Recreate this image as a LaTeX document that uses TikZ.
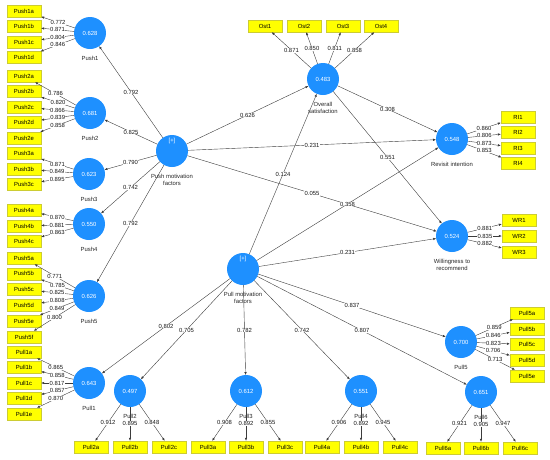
\documentclass[tikz,border=0pt]{standalone}
\usepackage{fontspec}
\setmainfont{Liberation Sans}
\usepackage{xcolor}
\definecolor{plsblue}{RGB}{30,144,255}
\definecolor{plsyellow}{RGB}{255,255,0}
\definecolor{plsline}{RGB}{60,60,60}
\newcommand{\plsfont}{\fontsize{5.9}{7}\selectfont}
\usepackage{tikz}
\usetikzlibrary{arrows.meta, positioning}

\begin{document}
\begin{tikzpicture}[
        x=1pt, y=-1pt,
        lv/.style={circle, fill=plsblue, minimum size=32pt, inner sep=0pt, outer sep=0pt, text=white, font=\plsfont},
        lvname/.style={font=\plsfont, text=black!85, align=center, inner sep=0pt, yshift=-7pt},
        plusmark/.style={font=\plsfont, text=white, yshift=10pt},
        ind/.style={rectangle, fill=plsyellow, draw=plsyellow!60!gray, line width=0.3pt, minimum width=34pt, minimum height=12pt, inner sep=0pt, font=\plsfont},
        arrow/.style={-{Latex[length=3pt,width=2.4pt]}, line width=0.4pt, draw=plsline},
        val/.style={fill=white, inner sep=0.4pt, font=\plsfont, text=black!90}
    ]
        \useasboundingbox (0,0) rectangle (550,459);

        % constructs
        \node[lv, label={[plusmark]center:{[+]}}, label={[lvname]below:{Push motivation\\factors}}] (push) at (172,151) {};
        \node[lv, label={[plusmark]center:{[+]}}, label={[lvname]below:{Pull motivation\\factors}}] (pull) at (243,269) {};
        \node[lv, label={[lvname]below:Push1}] (push1) at (90,33) {0.628};
        \node[lv, label={[lvname]below:Push2}] (push2) at (90,113) {0.681};
        \node[lv, label={[lvname]below:Push3}] (push3) at (89,174) {0.623};
        \node[lv, label={[lvname]below:Push4}] (push4) at (89,224) {0.550};
        \node[lv, label={[lvname]below:Push5}] (push5) at (89,296) {0.626};
        \node[lv, label={[lvname]below:Pull1}] (pull1) at (89,383) {0.643};
        \node[lv, label={[lvname]below:Pull2}] (pull2) at (130,391) {0.497};
        \node[lv, label={[lvname]below:Pull3}] (pull3) at (246,391) {0.612};
        \node[lv, label={[lvname]below:Pull4}] (pull4) at (361,391) {0.551};
        \node[lv, label={[lvname]below:Pull5}] (pull5) at (461,342) {0.700};
        \node[lv, label={[lvname]below:Pull6}] (pull6) at (481,392) {0.651};
        \node[lv, label={[lvname]below:{Overall\\satisfaction}}] (ost) at (323,79) {0.483};
        \node[lv, label={[lvname]below:Revisit intention}] (ri) at (452,139) {0.548};
        \node[lv, label={[lvname]below:{Willingness to\\recommend}}] (wr) at (452,236) {0.524};

        % indicators
        \node[ind] (push1a) at (24,11) {Push1a};
        \node[ind] (push1b) at (24,26.5) {Push1b};
        \node[ind] (push1c) at (24,42) {Push1c};
        \node[ind] (push1d) at (24,57.5) {Push1d};
        \node[ind] (push2a) at (24,76) {Push2a};
        \node[ind] (push2b) at (24,91.5) {Push2b};
        \node[ind] (push2c) at (24,107) {Push2c};
        \node[ind] (push2d) at (24,122.5) {Push2d};
        \node[ind] (push2e) at (24,138) {Push2e};
        \node[ind] (push3a) at (24,153.5) {Push3a};
        \node[ind] (push3b) at (24,169) {Push3b};
        \node[ind] (push3c) at (24,184.5) {Push3c};
        \node[ind] (push4a) at (24,210) {Push4a};
        \node[ind] (push4b) at (24,226) {Push4b};
        \node[ind] (push4c) at (24,241.5) {Push4c};
        \node[ind] (push5a) at (24,258) {Push5a};
        \node[ind] (push5b) at (24,273.8) {Push5b};
        \node[ind] (push5c) at (24,289.6) {Push5c};
        \node[ind] (push5d) at (24,305.4) {Push5d};
        \node[ind] (push5e) at (24,321.2) {Push5e};
        \node[ind] (push5f) at (24,337) {Push5f};
        \node[ind] (pull1a) at (24,352) {Pull1a};
        \node[ind] (pull1b) at (24,367.5) {Pull1b};
        \node[ind] (pull1c) at (24,383) {Pull1c};
        \node[ind] (pull1d) at (24,398.5) {Pull1d};
        \node[ind] (pull1e) at (24,414) {Pull1e};
        \node[ind] (pull2a) at (91,447) {Pull2a};
        \node[ind] (pull2b) at (130,447) {Pull2b};
        \node[ind] (pull2c) at (169,447) {Pull2c};
        \node[ind] (pull3a) at (208,447) {Pull3a};
        \node[ind] (pull3b) at (246,447) {Pull3b};
        \node[ind] (pull3c) at (285,447) {Pull3c};
        \node[ind] (pull4a) at (322,447) {Pull4a};
        \node[ind] (pull4b) at (361,447) {Pull4b};
        \node[ind] (pull4c) at (400,447) {Pull4c};
        \node[ind] (pull5a) at (527,313) {Pull5a};
        \node[ind] (pull5b) at (527,329) {Pull5b};
        \node[ind] (pull5c) at (527,344.5) {Pull5c};
        \node[ind] (pull5d) at (527,360) {Pull5d};
        \node[ind] (pull5e) at (527,376) {Pull5e};
        \node[ind] (pull6a) at (443,448) {Pull6a};
        \node[ind] (pull6b) at (481,448) {Pull6b};
        \node[ind] (pull6c) at (520,448) {Pull6c};
        \node[ind] (ost1) at (265,26) {Ost1};
        \node[ind] (ost2) at (304,26) {Ost2};
        \node[ind] (ost3) at (343,26) {Ost3};
        \node[ind] (ost4) at (381,26) {Ost4};
        \node[ind] (ri1) at (518,117) {RI1};
        \node[ind] (ri2) at (518,132.5) {RI2};
        \node[ind] (ri3) at (518,148) {RI3};
        \node[ind] (ri4) at (518,163.5) {RI4};
        \node[ind] (wr1) at (519,220) {WR1};
        \node[ind] (wr2) at (519,236) {WR2};
        \node[ind] (wr3) at (519,252) {WR3};

        % outer loadings
        \draw[arrow] (push1) -- node[val] {0.772} (push1a);
        \draw[arrow] (push1) -- node[val] {0.871} (push1b);
        \draw[arrow] (push1) -- node[val] {0.804} (push1c);
        \draw[arrow] (push1) -- node[val] {0.846} (push1d);
        \draw[arrow] (push2) -- node[val] {0.786} (push2a);
        \draw[arrow] (push2) -- node[val] {0.820} (push2b);
        \draw[arrow] (push2) -- node[val] {0.866} (push2c);
        \draw[arrow] (push2) -- node[val] {0.839} (push2d);
        \draw[arrow] (push2) -- node[val] {0.858} (push2e);
        \draw[arrow] (push3) -- node[val] {0.871} (push3a);
        \draw[arrow] (push3) -- node[val] {0.849} (push3b);
        \draw[arrow] (push3) -- node[val] {0.895} (push3c);
        \draw[arrow] (push4) -- node[val] {0.870} (push4a);
        \draw[arrow] (push4) -- node[val] {0.881} (push4b);
        \draw[arrow] (push4) -- node[val] {0.863} (push4c);
        \draw[arrow] (push5) -- node[val] {0.771} (push5a);
        \draw[arrow] (push5) -- node[val] {0.785} (push5b);
        \draw[arrow] (push5) -- node[val] {0.825} (push5c);
        \draw[arrow] (push5) -- node[val] {0.808} (push5d);
        \draw[arrow] (push5) -- node[val] {0.849} (push5e);
        \draw[arrow] (push5) -- node[val] {0.800} (push5f);
        \draw[arrow] (pull1) -- node[val] {0.865} (pull1a);
        \draw[arrow] (pull1) -- node[val] {0.858} (pull1b);
        \draw[arrow] (pull1) -- node[val] {0.817} (pull1c);
        \draw[arrow] (pull1) -- node[val] {0.857} (pull1d);
        \draw[arrow] (pull1) -- node[val] {0.870} (pull1e);
        \draw[arrow] (pull2) -- node[val] {0.912} (pull2a);
        \draw[arrow] (pull2) -- node[val] {0.895} (pull2b);
        \draw[arrow] (pull2) -- node[val] {0.848} (pull2c);
        \draw[arrow] (pull3) -- node[val] {0.908} (pull3a);
        \draw[arrow] (pull3) -- node[val] {0.892} (pull3b);
        \draw[arrow] (pull3) -- node[val] {0.855} (pull3c);
        \draw[arrow] (pull4) -- node[val] {0.906} (pull4a);
        \draw[arrow] (pull4) -- node[val] {0.892} (pull4b);
        \draw[arrow] (pull4) -- node[val] {0.945} (pull4c);
        \draw[arrow] (pull5) -- node[val] {0.859} (pull5a);
        \draw[arrow] (pull5) -- node[val] {0.846} (pull5b);
        \draw[arrow] (pull5) -- node[val] {0.823} (pull5c);
        \draw[arrow] (pull5) -- node[val] {0.706} (pull5d);
        \draw[arrow] (pull5) -- node[val] {0.713} (pull5e);
        \draw[arrow] (pull6) -- node[val] {0.921} (pull6a);
        \draw[arrow] (pull6) -- node[val] {0.905} (pull6b);
        \draw[arrow] (pull6) -- node[val] {0.947} (pull6c);
        \draw[arrow] (ost) -- node[val] {0.871} (ost1);
        \draw[arrow] (ost) -- node[val] {0.850} (ost2);
        \draw[arrow] (ost) -- node[val] {0.811} (ost3);
        \draw[arrow] (ost) -- node[val] {0.858} (ost4);
        \draw[arrow] (ri) -- node[val] {0.860} (ri1);
        \draw[arrow] (ri) -- node[val] {0.806} (ri2);
        \draw[arrow] (ri) -- node[val] {0.873} (ri3);
        \draw[arrow] (ri) -- node[val] {0.853} (ri4);
        \draw[arrow] (wr) -- node[val] {0.881} (wr1);
        \draw[arrow] (wr) -- node[val] {0.835} (wr2);
        \draw[arrow] (wr) -- node[val] {0.882} (wr3);

        % second-order paths
        \draw[arrow] (push) -- node[val] {0.792} (push1);
        \draw[arrow] (push) -- node[val] {0.825} (push2);
        \draw[arrow] (push) -- node[val] {0.790} (push3);
        \draw[arrow] (push) -- node[val] {0.742} (push4);
        \draw[arrow] (push) -- node[val] {0.792} (push5);
        \draw[arrow] (pull) -- node[val] {0.802} (pull1);
        \draw[arrow] (pull) -- node[val] {0.705} (pull2);
        \draw[arrow] (pull) -- node[val] {0.782} (pull3);
        \draw[arrow] (pull) -- node[val] {0.742} (pull4);
        \draw[arrow] (pull) -- node[val] {0.837} (pull5);
        \draw[arrow] (pull) -- node[val] {0.807} (pull6);

        % structural paths
        \draw[arrow] (push) -- node[val] {0.626} (ost);
        \draw[arrow] (push) -- node[val] {0.231} (ri);
        \draw[arrow] (push) -- node[val] {0.055} (wr);
        \draw[arrow] (pull) -- node[val] {0.124} (ost);
        \draw[arrow] (pull) -- node[val] {0.358} (ri);
        \draw[arrow] (pull) -- node[val] {0.231} (wr);
        \draw[arrow] (ost) -- node[val] {0.308} (ri);
        \draw[arrow] (ost) -- node[val] {0.551} (wr);
    \end{tikzpicture}
\end{document}
